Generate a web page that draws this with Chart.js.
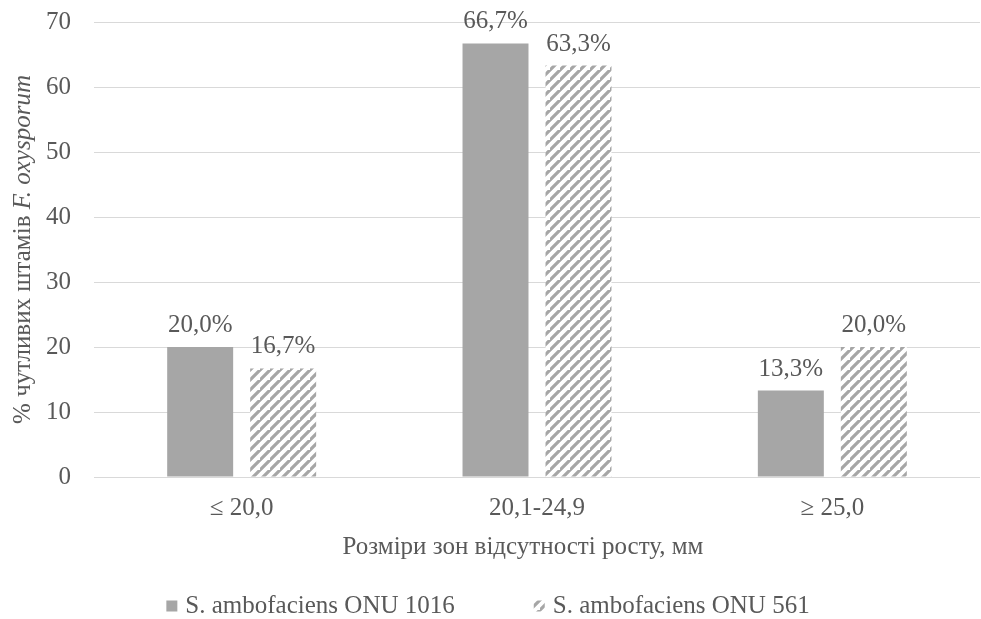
<!DOCTYPE html>
<html>
<head>
<meta charset="utf-8">
<script src="https://cdn.jsdelivr.net/npm/chart.js@4/dist/chart.umd.min.js"></script>
<style>
  html, body { margin: 0; padding: 0; background: #ffffff; }
  #wrap { width: 981px; height: 619px; }
</style>
</head>
<body>
<div id="wrap"><canvas id="chart" width="981" height="619"></canvas></div>
<script>
// Categories: size of the growth-free zone
const categories = ['\u2264 20,0', '20,1-24,9', '\u2265 25,0'];
// Series names
const seriesNames = ['S. ambofaciens ONU 1016', 'S. ambofaciens ONU 561'];
// Share of sensitive strains, %
const onu1016 = [20.0, 66.7, 13.3];
const onu561 = [16.7, 63.3, 20.0];
// Y axis ticks
const yTicks = [0, 10, 20, 30, 40, 50, 60, 70];
// Axis titles
const xTitle = 'Розміри зон відсутності росту, мм';
const yTitlePlain = '% чутливих штамів ';
const yTitleItalic = 'F. oxysporum';

const FONT = '"Liberation Serif", "Times New Roman", serif';
const FS = 25;
const TEXT = '#595959';
const GREY = '#a6a6a6';

// Diagonal hatch fill for the second series
function makeHatch() {
  const s = 10;
  const c = document.createElement('canvas');
  c.width = s; c.height = s;
  const g = c.getContext('2d');
  g.fillStyle = '#ffffff';
  g.fillRect(0, 0, s, s);
  g.strokeStyle = GREY;
  g.lineWidth = 3.2;
  g.lineCap = 'square';
  g.beginPath();
  g.moveTo(-2, s + 2); g.lineTo(s + 2, -2);
  g.moveTo(-2 - s, s + 2); g.lineTo(2, -2);
  g.moveTo(s - 2, 2 * s + 2); g.lineTo(2 * s + 2, s - 2);
  g.stroke();
  return g.createPattern(c, 'repeat');
}
const hatch = makeHatch();

function fmt(v) {
  return v.toFixed(1).replace('.', ',') + '%';
}

// Value labels above each bar
const valueLabels = {
  id: 'valueLabels',
  afterDatasetsDraw(chart) {
    const ctx = chart.ctx;
    ctx.save();
    ctx.font = FS + 'px ' + FONT;
    ctx.fillStyle = TEXT;
    ctx.textAlign = 'center';
    ctx.textBaseline = 'alphabetic';
    chart.data.datasets.forEach((ds, i) => {
      chart.getDatasetMeta(i).data.forEach((bar, j) => {
        ctx.fillText(fmt(ds.data[j]), bar.x, bar.y - 15);
      });
    });
    ctx.restore();
  }
};

// Axis titles: x title below the category labels, rotated y title with italic species name
const axisTitles = {
  id: 'axisTitles',
  afterDraw(chart) {
    const ctx = chart.ctx;
    const area = chart.chartArea;
    ctx.save();
    const plainFont = FS + 'px ' + FONT;
    const italFont = 'italic ' + FS + 'px ' + FONT;
    ctx.fillStyle = TEXT;

    ctx.font = plainFont;
    ctx.textAlign = 'center';
    ctx.textBaseline = 'middle';
    ctx.fillText(xTitle, 523, 547);

    const w1 = ctx.measureText(yTitlePlain).width;
    ctx.font = italFont;
    const w2 = ctx.measureText(yTitleItalic).width;
    const total = w1 + w2;
    const cy = (area.top + area.bottom) / 2;
    ctx.translate(30, cy);
    ctx.rotate(-Math.PI / 2);
    ctx.textBaseline = 'alphabetic';
    ctx.textAlign = 'left';
    ctx.font = plainFont;
    ctx.fillText(yTitlePlain, -total / 2, 0);
    ctx.font = italFont;
    ctx.fillText(yTitleItalic, -total / 2 + w1, 0);
    ctx.restore();
  }
};

// Legend row at the bottom
const legendRow = {
  id: 'legendRow',
  afterDraw(chart) {
    const ctx = chart.ctx;
    ctx.save();
    ctx.font = FS + 'px ' + FONT;
    const box = 11, gap = 8, itemGap = 79;
    const widths = chart.data.datasets.map(ds => ctx.measureText(ds.label).width);
    const total = widths.reduce((a, w) => a + box + gap + w, 0) + itemGap * (widths.length - 1);
    let x = 488 - total / 2;
    const cy = 606;
    chart.data.datasets.forEach((ds, i) => {
      ctx.fillStyle = ds.backgroundColor;
      ctx.fillRect(x, cy - box / 2, box, box);
      x += box + gap;
      ctx.fillStyle = TEXT;
      ctx.textBaseline = 'middle';
      ctx.textAlign = 'left';
      ctx.fillText(ds.label, x, cy);
      x += widths[i] + itemGap;
    });
    ctx.restore();
  }
};

new Chart(document.getElementById('chart'), {
  type: 'bar',
  data: {
    labels: categories,
    datasets: [
      { label: seriesNames[0], data: onu1016, backgroundColor: GREY, borderWidth: 0 },
      { label: seriesNames[1], data: onu561, backgroundColor: hatch, borderWidth: 0 }
    ]
  },
  options: {
    responsive: false,
    devicePixelRatio: 1,
    animation: false,
    layout: { padding: { top: 22, right: 1, bottom: 50, left: 0 } },
    datasets: { bar: { categoryPercentage: 0.562, barPercentage: 0.795 } },
    plugins: {
      legend: { display: false },
      tooltip: { enabled: false }
    },
    scales: {
      x: {
        grid: { display: false, drawTicks: false },
        border: { display: false },
        ticks: { color: TEXT, font: { family: FONT, size: FS }, padding: 16 },
        afterFit(s) { s.height = 92; s.paddingLeft = 0; s.paddingRight = 0; }
      },
      y: {
        min: 0, max: 70,
        afterBuildTicks(s) { s.ticks = yTicks.map(v => ({ value: v })); },
        grid: { color: '#d9d9d9', lineWidth: 1, drawTicks: false },
        border: { display: false },
        ticks: { color: TEXT, font: { family: FONT, size: FS }, padding: 23 },
        afterFit(s) { s.width = 94; s.paddingTop = 0; s.paddingBottom = 0; }
      }
    }
  },
  plugins: [valueLabels, axisTitles, legendRow]
});
</script>
</body>
</html>
